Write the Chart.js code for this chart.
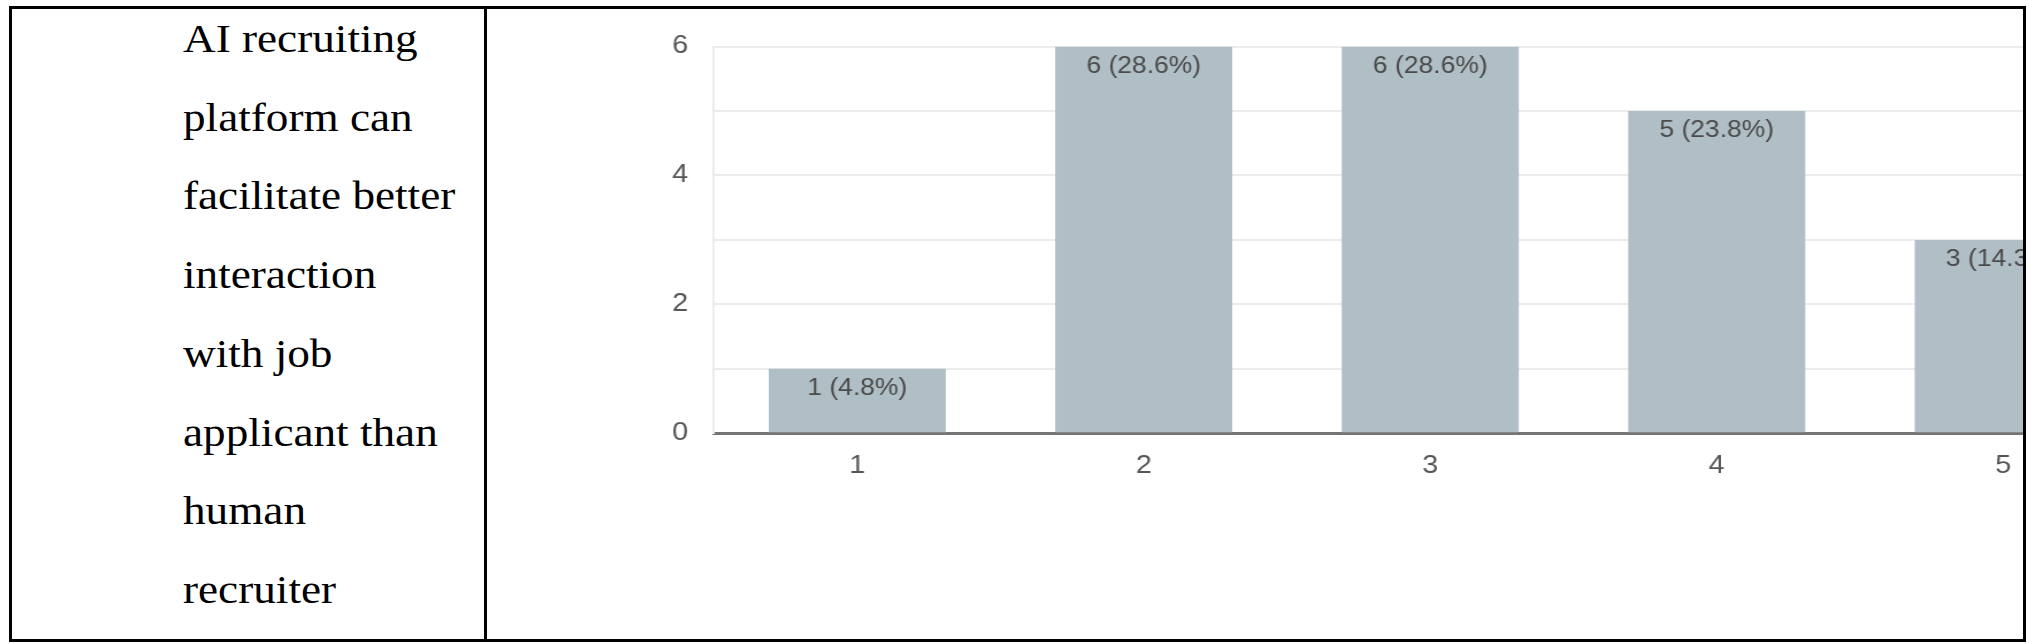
<!DOCTYPE html>
<html lang="en">

<head>
    <meta charset="UTF-8" />
    <title>AI recruiting platform survey</title>
    <script src="https://cdn.jsdelivr.net/npm/chart.js"></script>
    <style>
        body {
            margin: 0;
            width: 2041px;
            height: 644px;
            background-color: #fff;
            position: relative;
            overflow: hidden;
        }

        .table-box {
            position: absolute;
            left: 9px;
            top: 6px;
            width: 2017px;
            height: 636px;
            border: 3px solid #000;
            box-sizing: border-box;
        }

        .divider {
            position: absolute;
            left: 484px;
            top: 6px;
            width: 3px;
            height: 636px;
            background-color: #000;
        }

        .question {
            position: absolute;
            left: 183px;
            top: 0px;
            font-family: "Liberation Serif", "Times New Roman", serif;
            font-size: 40px;
            line-height: 78.7px;
            color: #000;
            white-space: nowrap;
            transform: scaleX(1.13);
            transform-origin: 0 0;
        }

        .chart-clip {
            position: absolute;
            left: 487px;
            top: 9px;
            width: 1536px;
            height: 630px;
            overflow: hidden;
        }

        /* the source picture is a little wider than tall, stretch the chart the same way */
        .chart-stretch {
            position: absolute;
            left: 0;
            top: 0;
            transform: scaleX(1.15);
            transform-origin: 0 0;
        }
    </style>
</head>

<body>
    <div class="table-box"></div>
    <div class="divider"></div>

    <div class="question">AI recruiting<br>platform can<br>facilitate better<br>interaction<br>with job<br>applicant than<br>human<br>recruiter</div>

    <div class="chart-clip">
        <div class="chart-stretch">
            <canvas id="ratingChart" width="1443" height="630"></canvas>
        </div>
    </div>

    <script>
        // rating scale 1..5 and how many answered each
        const ratings = ['1', '2', '3', '4', '5'];
        const counts = [1, 6, 6, 5, 3];
        const yTicks = [0, 2, 4, 6];

        const total = counts.reduce((a, b) => a + b, 0);

        // value + share written at the top inside each bar
        const barLabels = {
            id: 'barLabels',
            afterDatasetsDraw(chart) {
                const ctx = chart.ctx;
                const meta = chart.getDatasetMeta(0);
                ctx.save();
                ctx.font = '23px "Liberation Sans", Arial, sans-serif';
                ctx.fillStyle = '#4a4a4a';
                ctx.textAlign = 'center';
                ctx.textBaseline = 'middle';
                meta.data.forEach((bar, i) => {
                    const v = counts[i];
                    const pct = (v / total * 100).toFixed(1);
                    ctx.fillText(v + ' (' + pct + '%)', bar.x, bar.y + 20);
                });
                ctx.restore();
            }
        };

        Chart.defaults.font.family = '"Liberation Sans", Arial, sans-serif';

        const ctx = document.getElementById('ratingChart').getContext('2d');
        new Chart(ctx, {
            type: 'bar',
            data: {
                labels: ratings,
                datasets: [{
                    data: counts,
                    backgroundColor: '#b0bec5',
                    borderWidth: 0,
                    barPercentage: 0.618,
                    categoryPercentage: 1.0,
                }],
            },
            options: {
                responsive: false,
                animation: false,
                layout: {
                    padding: { top: 34, left: 0, right: 0, bottom: 0 },
                },
                plugins: {
                    legend: { display: false },
                    tooltip: { enabled: false },
                },
                scales: {
                    x: {
                        grid: { display: false, drawTicks: false },
                        border: { display: true, color: '#757575', width: 3 },
                        ticks: {
                            color: '#555',
                            font: { size: 25 },
                            padding: 18,
                        },
                        afterFit(scale) {
                            scale.height = 205.7;
                        },
                    },
                    y: {
                        min: 0,
                        max: 6,
                        grid: { color: '#ececec', lineWidth: 2, drawTicks: false },
                        border: { display: true, color: '#ececec', width: 2 },
                        ticks: {
                            stepSize: 1,
                            color: '#555',
                            font: { size: 25 },
                            padding: 22.5,
                            callback: (v) => (yTicks.includes(v) ? v : ''),
                        },
                        afterFit(scale) {
                            scale.width = 197.4;
                        },
                    },
                },
            },
            plugins: [barLabels],
        });
    </script>
</body>

</html>
